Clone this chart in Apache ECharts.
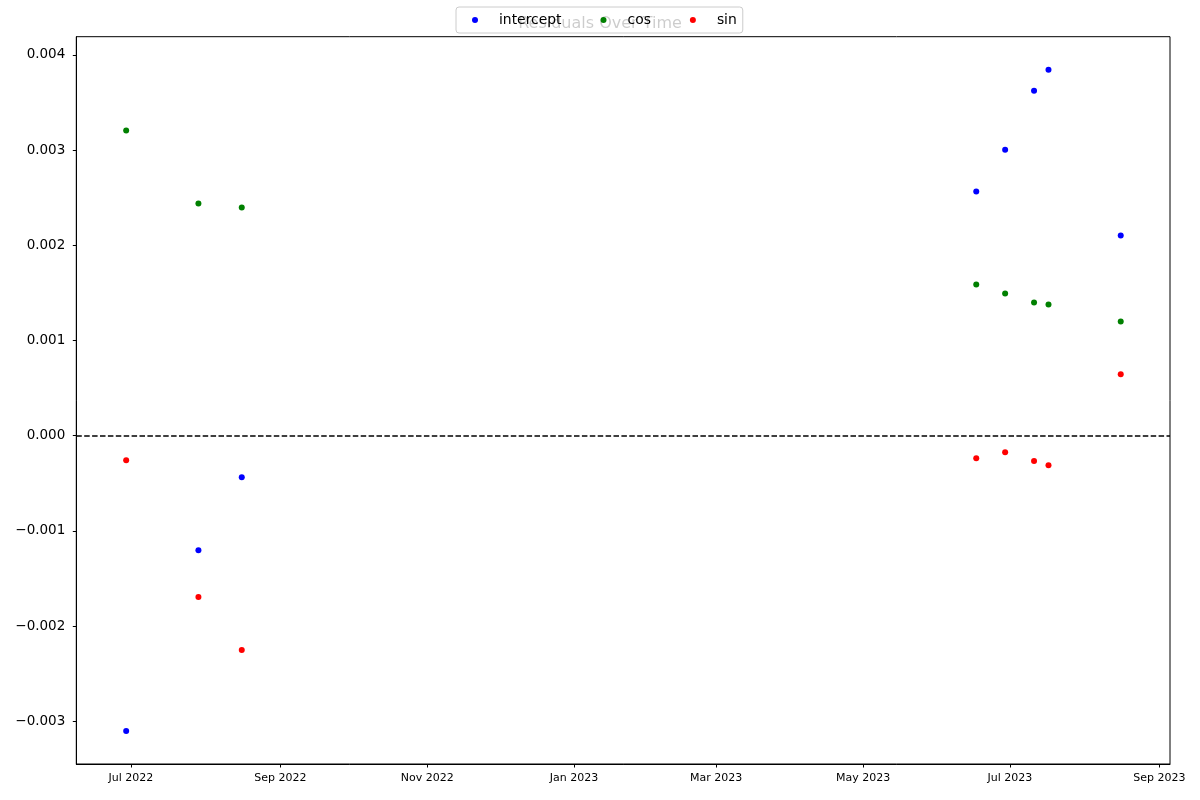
<!DOCTYPE html>
<html>
<head>
<meta charset="utf-8">
<script src="https://cdn.jsdelivr.net/npm/echarts@6/dist/echarts.min.js"></script>
<style>html,body{margin:0;padding:0;background:#fff}#c{width:1200px;height:800px}</style>
</head>
<body>
<div id="c"></div>
<script>
// ---- data ----
const dates = ['2022-06-29','2022-07-29','2022-08-16','2023-06-17','2023-06-29','2023-07-11','2023-07-17','2023-08-16'];
const intercept = [-0.003101,-0.001202,-0.000436,0.002564,0.003004,0.003623,0.003843,0.002102];
const cosVals   = [0.003204,0.002438,0.002396,0.001588,0.001494,0.001399,0.001378,0.001200];
const sinVals   = [-0.000258,-0.001695,-0.002251,-0.000237,-0.000174,-0.000265,-0.000311,0.000644];
const seriesNames = ['intercept','cos','sin'];
const monthNames = ['Jan','Feb','Mar','Apr','May','Jun','Jul','Aug','Sep','Oct','Nov','Dec'];
const titleText = 'Residuals Over Time';
const xMin = '2022-06-08 07:00';
const xMax = '2023-09-05 11:00';
const yMin = -0.003448;
const yMax = 0.00419;

const DAY = 24*3600*1000;
const pairs = vals => dates.map((d,i)=>[d, vals[i]]);
const font = 'DejaVu Sans';

const chart = echarts.init(document.getElementById('c'), null, {renderer:'canvas'});
chart.setOption({
  animation: false,
  backgroundColor: '#fff',
  title: {
    text: titleText, left: 'center', top: 11, z: 1,
    textStyle: {fontFamily: font, fontSize: 16, fontWeight: 'normal', color: '#000'}
  },
  legend: {
    data: seriesNames, top: 7, left: 456, z: 20,
    icon: 'circle', itemWidth: 38, itemHeight: 6, itemGap: 39,
    padding: [6, 6, 6, 16],
    backgroundColor: 'rgba(255,255,255,0.8)',
    borderColor: '#cccccc', borderWidth: 1, borderRadius: 3,
    textStyle: {fontFamily: font, fontSize: 13.9, color: '#000'}
  },
  grid: {left: 76.3, right: 30, top: 36.7, bottom: 36, containLabel: false,
         show: true, borderColor: '#000', borderWidth: 1, backgroundColor: 'transparent'},
  xAxis: {
    type: 'time', min: xMin, max: xMax,
    splitNumber: 7, minInterval: 75*DAY, maxInterval: 75*DAY,
    axisLine: {show: true, onZero: false, lineStyle: {color: '#000', width: 1}},
    axisTick: {show: true, length: 3.5, lineStyle: {color: '#000'}},
    splitLine: {show: false},
    axisLabel: {
      fontFamily: font, fontSize: 11, color: '#000', margin: 9,
      formatter: v => { const d = new Date(v); return monthNames[d.getMonth()] + ' ' + d.getFullYear(); }
    }
  },
  yAxis: {
    type: 'value', min: yMin, max: yMax, splitNumber: 8,
    axisLine: {show: true, onZero: false, lineStyle: {color: '#000', width: 1}},
    axisTick: {show: true, length: 3.5, lineStyle: {color: '#000'}},
    splitLine: {show: false},
    axisLabel: {
      fontFamily: font, fontSize: 13.5, color: '#000', margin: 11,
      showMinLabel: false, showMaxLabel: false,
      formatter: v => (v < 0 ? '\u2212' : '') + Math.abs(v).toFixed(3)
    }
  },
  series: [
    {
      name: seriesNames[0], type: 'scatter', data: pairs(intercept),
      symbol: 'circle', symbolSize: 6, itemStyle: {color: '#0000ff', opacity: 1},
      markLine: {
        silent: true, symbol: ['none','none'], label: {show: false},
        lineStyle: {color: '#000', width: 1.5, type: [5.5, 2.4], opacity: 1},
        data: [{yAxis: 0}]
      }
    },
    {name: seriesNames[1], type: 'scatter', data: pairs(cosVals), symbol: 'circle', symbolSize: 6, itemStyle: {color: '#008000', opacity: 1}},
    {name: seriesNames[2], type: 'scatter', data: pairs(sinVals), symbol: 'circle', symbolSize: 6, itemStyle: {color: '#ff0000', opacity: 1}}
  ]
});
</script>
</body>
</html>
